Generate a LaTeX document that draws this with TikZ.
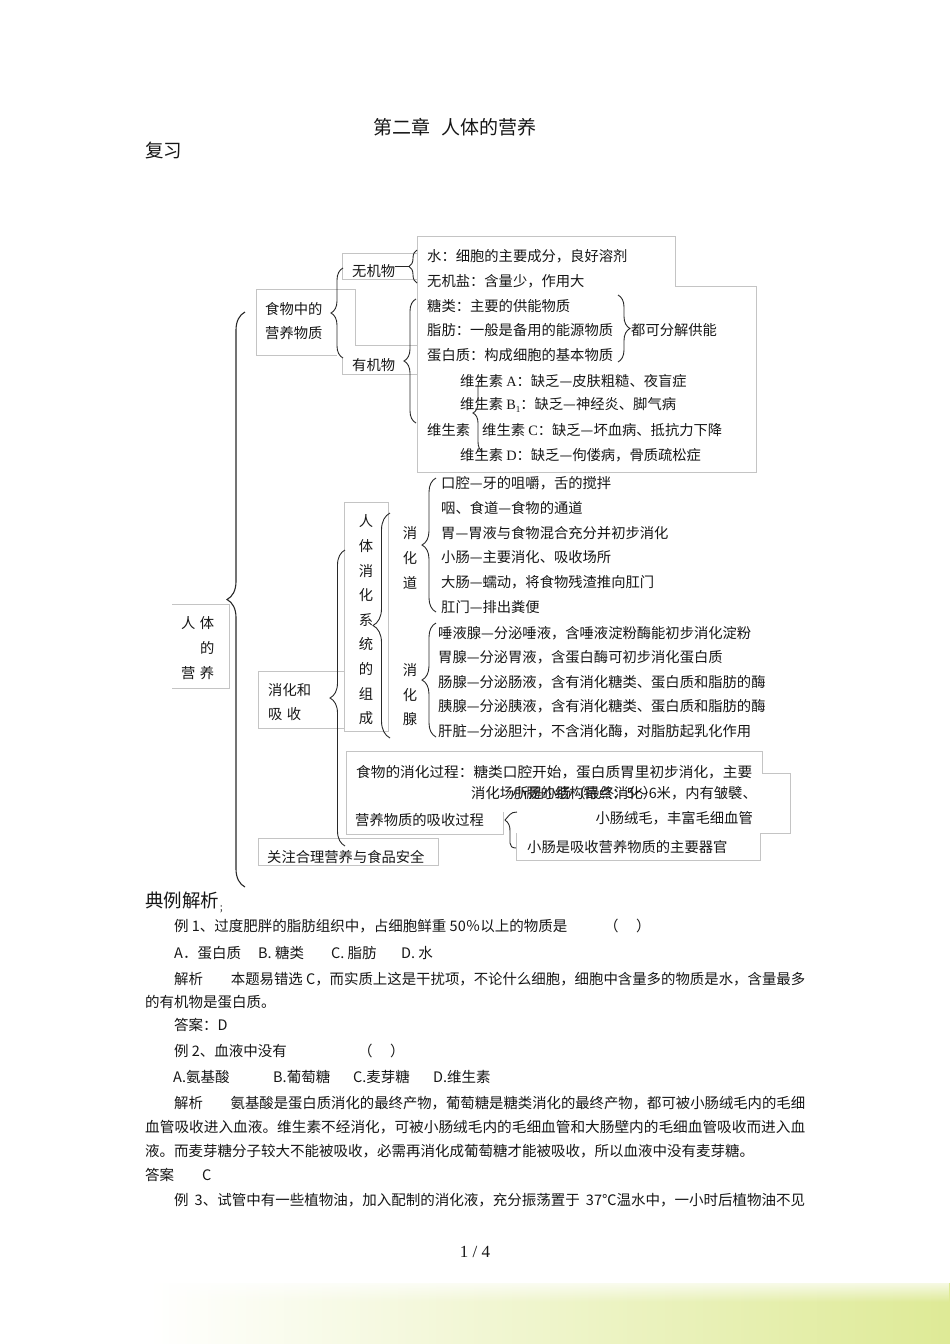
\documentclass[tikz,border=0pt]{standalone}
\usepackage{fontspec}
\usepackage{graphicx}
\usepackage{xcolor}
\usepackage{tikz}
\usetikzlibrary{decorations.pathreplacing,fadings}
\newfontfamily\cjk{Noto Sans CJK SC}
\newfontfamily\latn{Liberation Serif}
\definecolor{framegray}{RGB}{196,196,196}
\definecolor{braceink}{RGB}{40,40,40}
\definecolor{inkgray}{RGB}{22,22,22}
\definecolor{leafgreen}{RGB}{222,234,150}
\newcommand{\fitline}[2]{\resizebox{#1}{\height}{#2}}

\begin{document}
\begin{tikzpicture}[x=1pt,y=-1pt,font=\cjk\fontsize{14.3}{17}\selectfont,
    txt/.style={anchor=west,inner sep=0pt,text=inkgray},
    stack/.style={inner sep=0pt,align=center,text=inkgray,font=\cjk\fontsize{14.3}{24.6}\selectfont},
    body/.style={txt,font=\cjk\fontsize{14.5}{17}\selectfont},
    head/.style={txt,font=\cjk\fontsize{18.5}{20}\selectfont},
    boxline/.style={draw=framegray,line width=0.7pt},
    curly/.style={decorate,decoration={brace,amplitude=#1},draw=braceink,line width=0.9pt}]
  \useasboundingbox (0,0) rectangle (950,1344);

  \node[txt,font=\cjk\fontsize{19}{20}\selectfont] (title) at (373,127) {第二章\hspace{0.6em}人体的营养};
  \node[head] (review) at (145,150) {复习};

  \draw[boxline] (417,253) -- (342,253) -- (342,279) -- (417,279);
  \draw[boxline] (342,358) -- (342,374) -- (417,374);
  \draw[boxline] (337,355) -- (256,355) -- (256,289) -- (355,289) -- (355,345) -- (417,345);
  \draw[boxline] (417,236) -- (675,236) -- (675,286) -- (756,286) -- (756,472) -- (417,472) -- cycle;
  \draw[boxline] (172,604) -- (229,604) -- (229,688) -- (172,688);
  \draw[boxline] (344,502) rectangle (388,731);
  \draw[boxline] (344,671) -- (258,671) -- (258,728) -- (344,728);
  \draw[boxline] (762,773) -- (762,751) -- (346,751) -- (346,834) -- (503,834) -- (503,812);
  \draw[boxline] (762,773) -- (790,773) -- (790,833) -- (760,833);
  \draw[boxline] (516,833) -- (516,860) -- (760,860) -- (760,833);
  \draw[boxline] (258,838) rectangle (438,865);

  \node[txt,align=left,font=\cjk\fontsize{14.3}{24.8}\selectfont] (renti) at (181,648)
    {人\hspace{4.5pt}体\\\hspace{18.8pt}的\\营\hspace{4.5pt}养};
  \node[txt,align=left,font=\cjk\fontsize{14.3}{24}\selectfont] (shiwu) at (265,321) {食物中的\\营养物质};
  \node[txt] (wuji) at (352,271) {无机物};
  \node[txt] (youji) at (352,365) {有机物};
  \node[txt] (shui) at (427,256) {水：细胞的主要成分，良好溶剂};
  \node[txt] (yan) at (427,281) {无机盐：含量少，作用大};
  \node[txt] (tang) at (427,306) {糖类：主要的供能物质};
  \node[txt] (zhi) at (427,330) {脂肪：一般是备用的能源物质};
  \node[txt] (dan) at (427,355) {蛋白质：构成细胞的基本物质};
  \node[txt] (gong) at (631,330) {都可分解供能};
  \node[txt] (va) at (460,381) {维生素 {\latn A}：缺乏—皮肤粗糙、夜盲症};
  \node[txt] (vb) at (460,405) {维生素 {\latn B}\raisebox{-2.5pt}{\latn\fontsize{9}{9}\selectfont 1}：缺乏—神经炎、脚气病};
  \node[txt] (vit) at (427,430) {维生素};
  \node[txt] (vc) at (482,430) {维生素 {\latn C}：缺乏—坏血病、抵抗力下降};
  \node[txt] (vd) at (460,455) {维生素 {\latn D}：缺乏—佝偻病，骨质疏松症};

  \node[txt,align=left,font=\cjk\fontsize{14.3}{24.6}\selectfont] (xhe) at (268,702) {消化和\\吸\hspace{4.5pt}收};
  \node[stack] (xitong) at (366,620) {人\\体\\消\\化\\系\\统\\的\\组\\成};
  \node[stack,font=\cjk\fontsize{14.3}{25}\selectfont] (dao) at (410,558) {消\\化\\道};
  \node[stack,font=\cjk\fontsize{14.3}{24.5}\selectfont] (xian) at (410,695) {消\\化\\腺};
  \foreach \t [count=\i from 0] in {口腔—牙的咀嚼，舌的搅拌, 咽、食道—食物的通道,
      胃—胃液与食物混合充分并初步消化, 小肠—主要消化、吸收场所,
      大肠—蠕动，将食物残渣推向肛门, 肛门—排出粪便}
    \node[txt] (dao\i) at (441,{483+24.8*\i}) {\t};
  \foreach \t [count=\i from 0] in {唾液腺—分泌唾液，含唾液淀粉酶能初步消化淀粉,
      胃腺—分泌胃液，含蛋白酶可初步消化蛋白质,
      肠腺—分泌肠液，含有消化糖类、蛋白质和脂肪的酶,
      胰腺—分泌胰液，含有消化糖类、蛋白质和脂肪的酶,
      肝脏—分泌胆汁，不含消化酶，对脂肪起乳化作用}
    \node[txt] (xian\i) at (438,{633+24.5*\i}) {\t};

  \node[txt] (guo) at (356,772) {\fitline{396pt}{食物的消化过程：糖类口腔开始，蛋白质胃里初步消化，主要}};
  \node[txt] (chang) at (471,793) {消化场所是小肠（最终消化）};
  \node[txt,anchor=east] (jie) at (757,793) {小肠的结构特点：5～6米，内有皱襞、};
  \node[txt,anchor=east] (rong) at (753,818) {小肠绒毛，丰富毛细血管};
  \node[txt] (xishou) at (355,820) {营养物质的吸收过程};
  \node[txt] (qiguan) at (527,847) {小肠是吸收营养物质的主要器官};
  \node[txt] (anquan) at (267,857) {关注合理营养与食品安全};

  \draw[curly=18pt,line width=1.1pt] (245,887) -- (245,312);
  \draw[curly=12pt] (343,358) -- (343,268);
  \draw[braceink,line width=0.9pt] (395,266.5) -- (409,266.5);
  \draw[curly=8pt] (417,283) -- (417,250);
  \draw[curly=12pt] (416,423) -- (416,299);
  \draw[curly=12pt] (618,295) -- (618,362);
  \draw[curly=10pt,decoration={aspect=0.52}] (483,452) -- (483,377);
  \draw[curly=17pt] (390,738) -- (390,513);
  \draw[curly=15pt] (345,846) -- (345,550);
  \draw[curly=14pt] (436,612) -- (436,478);
  \draw[curly=14pt] (436,737) -- (436,623);
  \draw[braceink,line width=0.9pt] (517,812) .. controls (510,812) and (509,816) .. (505,820)
    .. controls (509,823) and (510,826) .. (510,831) -- (510,843)
    .. controls (510,846) and (512,848) .. (516,848);

  \node[head] (dianli) at (145,902) {典例解析\raisebox{-4pt}{\fontsize{9}{9}\selectfont ；}};
  \node[body] (q1) at (174,926) {例 1、过度肥胖的脂肪组织中，占细胞鲜重 50％以上的物质是};
  \node[body] (q1p) at (604,926) {（\hspace{1.2em}）};
  \node[body] (q1a) at (174,953) {A．蛋白质};
  \node[body] (q1b) at (258,953) {B. 糖类};
  \node[body] (q1c) at (331,953) {C. 脂肪};
  \node[body] (q1d) at (401,953) {D. 水};
  \node[body] (e1) at (174,979) {\fitline{631pt}{解析\hspace{28pt}本题易错选 C，而实质上这是干扰项，不论什么细胞，细胞中含量多的物质是水，含量最多}};
  \node[body] (e1b) at (145,1002) {的有机物是蛋白质。};
  \node[body] (a1) at (174,1025) {答案：D};
  \node[body] (q2) at (174,1051) {例 2、血液中没有};
  \node[body] (q2p) at (358,1051) {（\hspace{1.2em}）};
  \node[body] (q2a) at (173,1077) {A.氨基酸};
  \node[body] (q2b) at (273,1077) {B.葡萄糖};
  \node[body] (q2c) at (353,1077) {C.麦芽糖};
  \node[body] (q2d) at (433,1077) {D.维生素};
  \node[body] (e2) at (174,1103) {\fitline{631pt}{解析\hspace{28pt}氨基酸是蛋白质消化的最终产物，葡萄糖是糖类消化的最终产物，都可被小肠绒毛内的毛细}};
  \node[body] (e2b) at (145,1127) {\fitline{660pt}{血管吸收进入血液。维生素不经消化，可被小肠绒毛内的毛细血管和大肠壁内的毛细血管吸收而进入血}};
  \node[body] (e2c) at (145,1151) {液。而麦芽糖分子较大不能被吸收，必需再消化成葡萄糖才能被吸收，所以血液中没有麦芽糖。};
  \node[body] (a2) at (145,1175) {答案\hspace{28pt}C};
  \node[body] (q3) at (174,1200) {\fitline{631pt}{例\hspace{6pt}3、试管中有一些植物油，加入配制的消化液，充分振荡置于\hspace{6pt}37℃温水中，一小时后植物油不见}};
  \node[inner sep=0pt,text=inkgray,font=\latn\fontsize{17}{18}\selectfont] (page) at (475,1252) {1 / 4};

  \shade[left color=white,right color=leafgreen] (150,1283) rectangle (950,1344);
  \fill[white,path fading=south] (150,1276) rectangle (950,1302);
\end{tikzpicture}
\end{document}
